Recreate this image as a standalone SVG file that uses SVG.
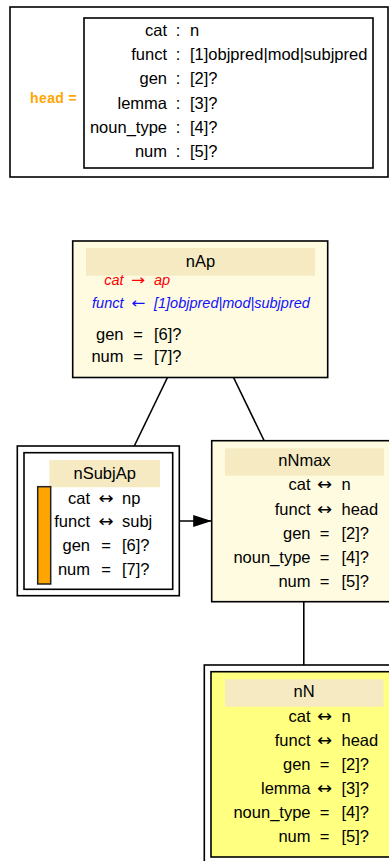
<svg xmlns="http://www.w3.org/2000/svg" width="389" height="861" viewBox="0 0 389 861">
<style>
text{font-family:"Liberation Sans",Arial,sans-serif;font-size:16.5px;fill:#000}
.r{text-anchor:end}
.c{text-anchor:middle}
.ar{font-family:"DejaVu Sans",sans-serif;font-size:17px}
.box{stroke:#000;stroke-width:1.6}
.hdr{fill:#F5EAC2}
.it{font-style:italic;font-size:14.5px}
.red{fill:#FF0000}
.blue{fill:#1010FF}
.edge{stroke:#000;stroke-width:1.6;fill:none}
</style>
<defs>
<marker id="ah" markerWidth="19" markerHeight="12" refX="18.5" refY="6" orient="auto" markerUnits="userSpaceOnUse">
<path d="M0,0 L18.5,6 L0,12 Z" fill="#000"/>
</marker>
</defs>
<rect width="389" height="861" fill="#fff"/>

<g id="head-def">
<rect class="box" x="10" y="7" width="378" height="170" fill="#fff"/>
<text x="30" y="103" style="font-weight:bold;font-size:14px;fill:#FFA500;letter-spacing:0.4px">head =</text>
<rect class="box" x="84" y="18" width="289" height="150" fill="#fff"/>
<text class="r" x="167" y="36">cat</text><text class="c" x="178" y="36">:</text><text x="190" y="36">n</text>
<text class="r" x="167" y="60">funct</text><text class="c" x="178" y="60">:</text><text x="190" y="60">[1]objpred|mod|subjpred</text>
<text class="r" x="167" y="84">gen</text><text class="c" x="178" y="84">:</text><text x="190" y="84">[2]?</text>
<text class="r" x="167" y="109">lemma</text><text class="c" x="178" y="109">:</text><text x="190" y="109">[3]?</text>
<text class="r" x="167" y="133">noun_type</text><text class="c" x="178" y="133">:</text><text x="190" y="133">[4]?</text>
<text class="r" x="167" y="157">num</text><text class="c" x="178" y="157">:</text><text x="190" y="157">[5]?</text>
</g>

<g id="connectors">
<line class="edge" x1="167.7" y1="377" x2="134.3" y2="446"/>
<line class="edge" x1="233.3" y1="377" x2="264.3" y2="441"/>
<line class="edge" x1="179.3" y1="521" x2="211.7" y2="521" marker-end="url(#ah)"/>
<line class="edge" x1="303.8" y1="601.7" x2="303.8" y2="665"/>
</g>

<g id="nAp">
<rect class="box" x="72.7" y="241" width="255" height="136.5" fill="#FFFBE0"/>
<rect class="hdr" x="86" y="248" width="229" height="27.7"/>
<text class="c" x="200.5" y="267">nAp</text>
<text class="r it red" x="123.5" y="285">cat</text><text class="ar red" x="131" y="285" textLength="14" lengthAdjust="spacingAndGlyphs" style="font-size:15px">→</text><text class="it red" x="154" y="285">ap</text>
<text class="r it blue" x="123.5" y="307.5">funct</text><text class="ar blue" x="131.3" y="307.5" textLength="14" lengthAdjust="spacingAndGlyphs" style="font-size:15px">←</text><text class="it blue" x="154" y="307.5">[1]objpred|mod|subjpred</text>
<text class="r" x="123.5" y="339.5">gen</text><text class="c" x="138" y="339.5">=</text><text x="154" y="339.5">[6]?</text>
<text class="r" x="123.5" y="362">num</text><text class="c" x="138" y="362">=</text><text x="154" y="362">[7]?</text>
</g>

<g id="nSubjAp">
<rect class="box" x="17.3" y="446" width="162" height="149.7" fill="#fff"/>
<rect class="box" x="24" y="452.7" width="148.7" height="136.6" fill="#fff"/>
<rect class="hdr" x="49.3" y="460" width="110.7" height="27.3"/>
<text class="c" x="104.7" y="479">nSubjAp</text>
<rect x="37.7" y="486.7" width="13" height="97.3" fill="#FFA500" stroke="#222" stroke-width="1.5"/>
<text class="r" x="90" y="503.5">cat</text><text class="ar" x="98.5" y="503.5" textLength="15" lengthAdjust="spacingAndGlyphs">↔</text><text x="122" y="503.5">np</text>
<text class="r" x="90" y="526.5">funct</text><text class="ar" x="98.5" y="526.5" textLength="15" lengthAdjust="spacingAndGlyphs">↔</text><text x="122" y="526.5">subj</text>
<text class="r" x="90" y="551">gen</text><text class="c" x="106" y="551">=</text><text x="122" y="551">[6]?</text>
<text class="r" x="90" y="574.5">num</text><text class="c" x="106" y="574.5">=</text><text x="122" y="574.5">[7]?</text>
</g>

<g id="nNmax">
<rect class="box" x="211.7" y="440.7" width="185.6" height="161" fill="#FFFBE0"/>
<rect class="hdr" x="225" y="448.3" width="159" height="27.4"/>
<text class="c" x="304.5" y="466">nNmax</text>
<text class="r" x="310.5" y="490">cat</text><text class="ar" x="317" y="490" textLength="15" lengthAdjust="spacingAndGlyphs">↔</text><text x="341.5" y="490">n</text>
<text class="r" x="310.5" y="514.5">funct</text><text class="ar" x="317" y="514.5" textLength="15" lengthAdjust="spacingAndGlyphs">↔</text><text x="341.5" y="514.5">head</text>
<text class="r" x="310.5" y="539">gen</text><text class="c" x="324.5" y="539">=</text><text x="341.5" y="539">[2]?</text>
<text class="r" x="310.5" y="563">noun_type</text><text class="c" x="324.5" y="563">=</text><text x="341.5" y="563">[4]?</text>
<text class="r" x="310.5" y="587">num</text><text class="c" x="324.5" y="587">=</text><text x="341.5" y="587">[5]?</text>
</g>

<g id="nN">
<rect class="box" x="204.3" y="665" width="200" height="205" fill="#fff"/>
<rect class="box" x="211" y="671.7" width="186.3" height="185.3" fill="#FFFF80"/>
<rect class="hdr" x="225" y="679.3" width="158.5" height="27.4"/>
<text class="c" x="304" y="696.5">nN</text>
<text class="r" x="310.5" y="721.5">cat</text><text class="ar" x="317" y="721.5" textLength="15" lengthAdjust="spacingAndGlyphs">↔</text><text x="341.5" y="721.5">n</text>
<text class="r" x="310.5" y="745.5">funct</text><text class="ar" x="317" y="745.5" textLength="15" lengthAdjust="spacingAndGlyphs">↔</text><text x="341.5" y="745.5">head</text>
<text class="r" x="310.5" y="770">gen</text><text class="c" x="324.5" y="770">=</text><text x="341.5" y="770">[2]?</text>
<text class="r" x="310.5" y="794">lemma</text><text class="ar" x="317" y="794" textLength="15" lengthAdjust="spacingAndGlyphs">↔</text><text x="341.5" y="794">[3]?</text>
<text class="r" x="310.5" y="818">noun_type</text><text class="c" x="324.5" y="818">=</text><text x="341.5" y="818">[4]?</text>
<text class="r" x="310.5" y="842">num</text><text class="c" x="324.5" y="842">=</text><text x="341.5" y="842">[5]?</text>
</g>
</svg>
